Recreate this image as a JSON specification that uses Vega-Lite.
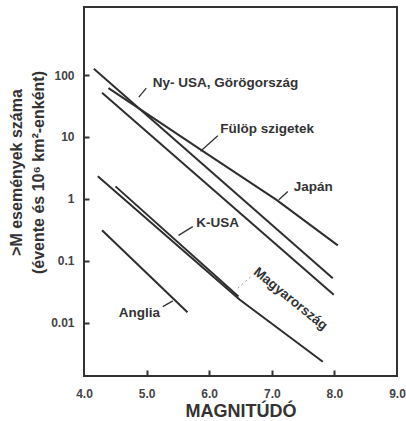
{
  "$schema": "https://vega.github.io/schema/vega-lite/v6.json",
  "width": 313,
  "height": 369,
  "autosize": {"type": "none"},
  "padding": {"left": 84, "top": 7, "right": 9, "bottom": 45},
  "background": "white",
  "config": {"view": {"stroke": "#333", "strokeWidth": 2}, "font": "Liberation Sans"},
  "resolve": {"axis": {"x": "independent", "y": "independent"}},
  "datasets": {
    "curves": [
      {"curve": "nyusa", "M": 4.157, "N": 126.5},
      {"curve": "nyusa", "M": 7.974, "N": 0.0522},
      {"curve": "japan", "M": 4.391, "N": 61.6},
      {"curve": "japan", "M": 5.845, "N": 6.43},
      {"curve": "japan", "M": 7.075, "N": 0.964},
      {"curve": "japan", "M": 8.054, "N": 0.177},
      {"curve": "fulop", "M": 4.288, "N": 51.8},
      {"curve": "fulop", "M": 7.99, "N": 0.0281},
      {"curve": "magyar", "M": 4.22, "N": 2.31},
      {"curve": "magyar", "M": 6.484, "N": 0.0237},
      {"curve": "magyar", "M": 7.815, "N": 0.00234},
      {"curve": "kusa", "M": 4.503, "N": 1.59},
      {"curve": "kusa", "M": 6.468, "N": 0.0265},
      {"curve": "anglia", "M": 4.288, "N": 0.312},
      {"curve": "anglia", "M": 5.653, "N": 0.01472}
    ],
    "leaders": [
      {"id": "ny", "M": 4.876, "N": 44.0},
      {"id": "ny", "M": 4.994, "N": 61.6},
      {"id": "fu", "M": 5.861, "N": 5.86},
      {"id": "fu", "M": 6.137, "N": 10.45},
      {"id": "ja", "M": 7.112, "N": 0.964},
      {"id": "ja", "M": 7.256, "N": 1.31},
      {"id": "ku", "M": 5.51, "N": 0.257},
      {"id": "ku", "M": 5.738, "N": 0.356},
      {"id": "an", "M": 5.259, "N": 0.01815},
      {"id": "an", "M": 5.419, "N": 0.02245}
    ],
    "dashed": [
      {"id": "ma", "M": 6.457, "N": 0.036},
      {"id": "ma", "M": 6.696, "N": 0.059}
    ],
    "labels": [
      {"label": "Ny- USA, Görögország", "M": 5.099, "N": 74.3},
      {"label": "Fülöp szigetek", "M": 6.176, "N": 13.55},
      {"label": "Japán", "M": 7.351, "N": 1.563},
      {"label": "K-USA", "M": 5.792, "N": 0.409},
      {"label": "Anglia", "M": 4.556, "N": 0.01435}
    ],
    "rotlabels": [
      {"label": "Magyarország", "M": 7.299, "N": 0.02414}
    ]
  },
  "layer": [
    {
      "data": {"name": "curves"},
      "mark": {"type": "line", "color": "#2e2e2e", "strokeWidth": 2},
      "encoding": {
        "x": {
          "field": "M",
          "type": "quantitative",
          "scale": {"domain": [4, 9], "nice": false, "zero": false},
          "axis": {
            "orient": "bottom",
            "values": [4, 5, 6, 7, 8, 9],
            "format": ".1f",
            "title": "MAGNITÚDÓ",
            "titleFontSize": 18,
            "titleFontWeight": "bold",
            "titleColor": "#333",
            "titlePadding": 3,
            "labelFontSize": 12,
            "labelFontWeight": "bold",
            "labelColor": "#444",
            "labelFlush": false,
            "ticks": false,
            "tickSize": 0,
            "labelPadding": 12,
            "domain": false,
            "grid": false
          }
        },
        "y": {
          "field": "N",
          "type": "quantitative",
          "scale": {"type": "log", "domain": [0.001374, 1257], "nice": false},
          "axis": {
            "orient": "left",
            "values": [0.01, 0.1, 1, 10, 100],
            "format": "~g",
            "title": [">M események száma", "(évente és 10⁶ km²-enként)"],
            "titleFontSize": 16,
            "titleFontWeight": "bold",
            "titleColor": "#333",
            "titleLineHeight": 22,
            "titlePadding": 4,
            "titleY": 165,
            "labelFontSize": 12,
            "labelFontWeight": "bold",
            "labelColor": "#444",
            "labelFlush": false,
            "ticks": false,
            "tickSize": 0,
            "labelPadding": 10,
            "domain": false,
            "grid": false
          }
        },
        "detail": {"field": "curve"}
      }
    },
    {
      "data": {"name": "leaders"},
      "mark": {"type": "line", "color": "#333", "strokeWidth": 1.3},
      "encoding": {
        "x": {
          "field": "M",
          "type": "quantitative",
          "axis": {
            "orient": "top",
            "offset": -369,
            "values": [5, 6, 7, 8],
            "labels": false,
            "title": null,
            "domain": false,
            "grid": false,
            "ticks": true,
            "tickSize": 6,
            "tickWidth": 2,
            "tickColor": "#333"
          }
        },
        "y": {
          "field": "N",
          "type": "quantitative",
          "axis": {
            "orient": "right",
            "offset": -313,
            "values": [0.01, 0.1, 1, 10, 100],
            "labels": false,
            "title": null,
            "domain": false,
            "grid": false,
            "ticks": true,
            "tickSize": 5,
            "tickWidth": 2,
            "tickColor": "#333"
          }
        },
        "detail": {"field": "id"}
      }
    },
    {
      "data": {"name": "dashed"},
      "mark": {"type": "line", "color": "#999", "strokeWidth": 1, "strokeDash": [2, 3]},
      "encoding": {
        "x": {"field": "M", "type": "quantitative", "axis": null},
        "y": {"field": "N", "type": "quantitative", "axis": null},
        "detail": {"field": "id"}
      }
    },
    {
      "data": {"name": "labels"},
      "mark": {"type": "text", "align": "left", "baseline": "middle", "fontSize": 13.5, "fontWeight": "bold", "color": "#333"},
      "encoding": {
        "x": {"field": "M", "type": "quantitative", "axis": null},
        "y": {"field": "N", "type": "quantitative", "axis": null},
        "text": {"field": "label"}
      }
    },
    {
      "data": {"name": "rotlabels"},
      "mark": {"type": "text", "align": "center", "baseline": "middle", "angle": 39, "fontSize": 13.5, "fontWeight": "bold", "color": "#333"},
      "encoding": {
        "x": {"field": "M", "type": "quantitative", "axis": null},
        "y": {"field": "N", "type": "quantitative", "axis": null},
        "text": {"field": "label"}
      }
    }
  ]
}
